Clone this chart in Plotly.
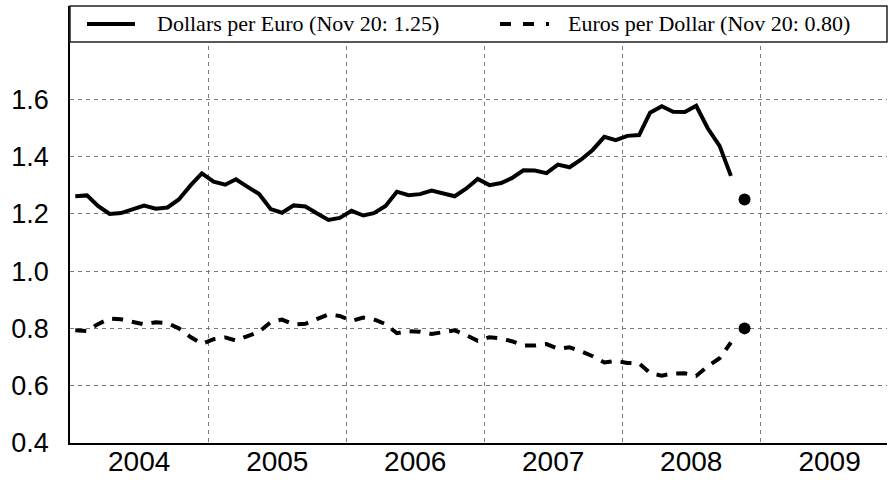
import pandas as pd
import plotly.graph_objects as go

# Monthly averages, Jan 2004 - Oct 2008
dollars_per_euro = [
    1.2609, 1.2640, 1.2273, 1.1991, 1.2025, 1.2147, 1.2287, 1.2176, 1.2220, 1.2497, 1.2991, 1.3408,
    1.3119, 1.3014, 1.3201, 1.2938, 1.2694, 1.2165, 1.2037, 1.2292, 1.2256, 1.2015, 1.1786, 1.1856,
    1.2103, 1.1938, 1.2020, 1.2271, 1.2770, 1.2650, 1.2684, 1.2811, 1.2727, 1.2611, 1.2881, 1.3213,
    1.2999, 1.3074, 1.3242, 1.3516, 1.3511, 1.3419, 1.3716, 1.3622, 1.3896, 1.4227, 1.4684, 1.4570,
    1.4718, 1.4748, 1.5527, 1.5751, 1.5557, 1.5553, 1.5770, 1.4975, 1.4370, 1.3322,
]
euros_per_dollar = [
    0.7931, 0.7911, 0.8148, 0.8340, 0.8316, 0.8232, 0.8139, 0.8213, 0.8183, 0.8002, 0.7698, 0.7458,
    0.7623, 0.7684, 0.7575, 0.7729, 0.7878, 0.8220, 0.8308, 0.8135, 0.8159, 0.8323, 0.8485, 0.8435,
    0.8262, 0.8377, 0.8319, 0.8149, 0.7831, 0.7905, 0.7884, 0.7806, 0.7857, 0.7930, 0.7763, 0.7568,
    0.7693, 0.7649, 0.7552, 0.7399, 0.7401, 0.7452, 0.7291, 0.7341, 0.7196, 0.7029, 0.6810, 0.6863,
    0.6794, 0.6781, 0.6440, 0.6349, 0.6428, 0.6430, 0.6341, 0.6678, 0.6959, 0.7506,
]
months = pd.date_range(start="2004-01-01", periods=len(dollars_per_euro), freq="MS") + pd.Timedelta(days=14)

latest_date = ["2008-11-20"]
latest_dpe = [1.25]
latest_epd = [0.80]

y_ticks = [0.4, 0.6, 0.8, 1.0, 1.2, 1.4, 1.6]
legend_labels = ["Dollars per Euro (Nov 20: 1.25)", "Euros per Dollar (Nov 20: 0.80)"]

DASH = "11px,9px"

fig = go.Figure()
fig.add_trace(go.Scatter(x=months, y=dollars_per_euro, mode="lines",
                         line=dict(color="black", width=4), showlegend=False))
fig.add_trace(go.Scatter(x=months, y=euros_per_dollar, mode="lines",
                         line=dict(color="black", width=4, dash=DASH), showlegend=False))
fig.add_trace(go.Scatter(x=latest_date * 2, y=latest_dpe + latest_epd, mode="markers",
                         marker=dict(color="black", size=12), showlegend=False))

grid = dict(gridcolor="#7a7a7a", gridwidth=1, griddash="4px,4px")

fig.update_layout(
    width=888, height=480,
    margin=dict(l=70, r=1, t=6, b=37, autoexpand=False),
    paper_bgcolor="white", plot_bgcolor="white",
    xaxis=dict(
        type="date", range=["2004-01-01", "2009-12-02"], automargin=False,
        tick0="2004-01-01", dtick="M12", ticklabelmode="period", tickformat="%Y",
        showgrid=True, **grid,
        showline=True, linecolor="black", linewidth=1.5,
        ticks="", ticklabelstandoff=-7, zeroline=False,
        tickfont=dict(family="Liberation Sans, Arial", size=28, color="black"),
    ),
    yaxis=dict(
        range=[0.4, 1.925], tickvals=y_ticks, ticktext=[f"{v:.1f}" for v in y_ticks],
        automargin=False,
        showgrid=True, **grid,
        showline=True, linecolor="black", linewidth=1.5,
        ticks="outside", ticklen=14, tickcolor="rgba(0,0,0,0)", zeroline=False,
        tickfont=dict(family="Liberation Sans, Arial", size=27, color="black"),
    ),
)

# Legend box
fig.add_shape(type="rect", xref="paper", yref="paper", x0=0, x1=1, y0=(443 - 42) / 437, y1=1,
              fillcolor="white", line=dict(color="#222", width=1.5), layer="above")
ly = (443 - 24) / 437
fig.add_shape(type="line", xref="paper", yref="paper", x0=(87 - 70) / 817, x1=(135 - 70) / 817,
              y0=ly, y1=ly, line=dict(color="black", width=4), layer="above")
fig.add_shape(type="line", xref="paper", yref="paper", x0=(500 - 70) / 817, x1=(549 - 70) / 817,
              y0=ly, y1=ly, line=dict(color="black", width=4, dash="11px,12px"), layer="above")
fig.add_annotation(xref="paper", yref="paper", x=(155 - 70) / 817, y=ly, text=legend_labels[0],
                   showarrow=False, xanchor="left", yanchor="middle",
                   font=dict(family="Liberation Serif, Times New Roman", size=22, color="black"))
fig.add_annotation(xref="paper", yref="paper", x=(566 - 70) / 817, y=ly, text=legend_labels[1],
                   showarrow=False, xanchor="left", yanchor="middle",
                   font=dict(family="Liberation Serif, Times New Roman", size=22, color="black"))

fig.write_html("out.html", config={"displayModeBar": False},
               post_script="document.body.style.margin='0px';")
